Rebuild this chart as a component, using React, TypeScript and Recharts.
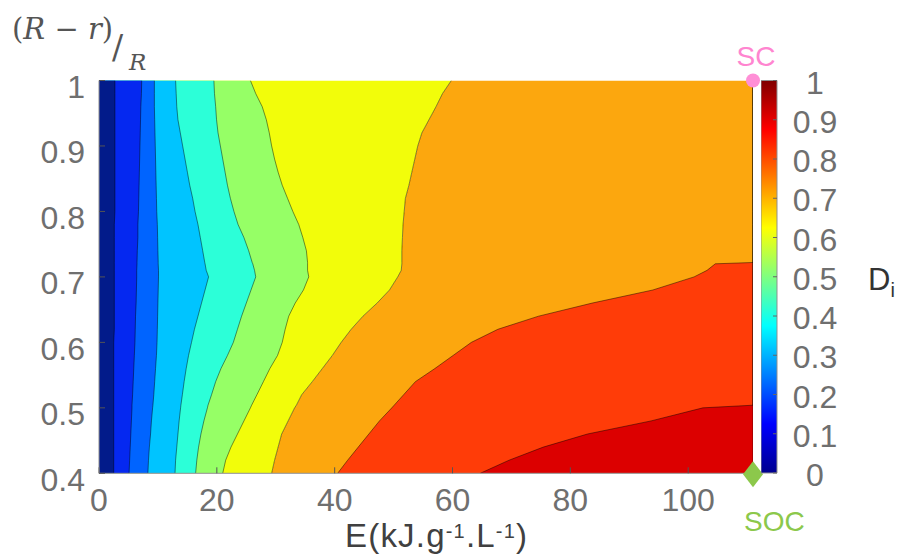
import { ComposedChart, Area, XAxis, YAxis, ReferenceDot, BarChart, Bar } from "recharts";

const X_MAX = 111;
const E_TICKS = [0, 20, 40, 60, 80, 100];
const RATIO_TICKS = [0.4, 0.5, 0.6, 0.7, 0.8, 0.9, 1];
const DI_TICKS = [0, 0.1, 0.2, 0.3, 0.4, 0.5, 0.6, 0.7, 0.8, 0.9, 1];

// (R-r)/R rows where the contour lines were sampled
const ratio = [
  0.4, 0.42, 0.44, 0.46, 0.48, 0.5, 0.504, 0.52, 0.54, 0.56, 0.58, 0.6, 0.62, 0.64, 0.66, 0.68, 0.7,
  0.71, 0.72, 0.722, 0.74, 0.76, 0.78, 0.8, 0.82, 0.84, 0.86, 0.88, 0.9, 0.92, 0.94, 0.96, 0.98, 1,
];

// E (kJ/g/L) of each iso-Di line, one entry per ratio row
const di01 = [2.5, 2.5, 2.5, 2.5, 2.5, 2.5, 2.5, 2.5, 2.5, 2.5, 2.5, 2.5, 2.6, 2.6, 2.6, 2.6, 2.6, 2.6, 2.6, 2.6, 2.6, 2.6, 2.6, 2.7, 2.7, 2.7, 2.7, 2.7, 2.7, 2.7, 2.7, 2.7, 2.7, 2.7];
const di02 = [5.1, 5.2, 5.3, 5.4, 5.5, 5.6, 5.6, 5.7, 5.8, 5.9, 6.0, 6.1, 6.15, 6.2, 6.3, 6.35, 6.4, 6.4, 6.45, 6.45, 6.5, 6.6, 6.6, 6.7, 6.75, 6.8, 6.85, 6.9, 6.95, 7.0, 7.05, 7.1, 7.2, 7.25];
const di03 = [8.3, 8.4, 8.55, 8.75, 8.9, 9.1, 9.15, 9.3, 9.45, 9.6, 9.75, 9.85, 9.9, 9.95, 10.0, 10.05, 10.1, 10.1, 10.05, 10.05, 10.0, 9.95, 9.9, 9.8, 9.75, 9.7, 9.65, 9.6, 9.55, 9.5, 9.45, 9.4, 9.4, 9.4];
const di04 = [12.9, 13.0, 13.2, 13.4, 13.6, 13.85, 13.9, 14.15, 14.45, 14.8, 15.2, 15.7, 16.2, 16.8, 17.4, 18.0, 18.6, 18.2, 18.0, 17.95, 17.6, 17.2, 16.8, 16.3, 15.9, 15.4, 15.0, 14.6, 14.2, 13.8, 13.4, 13.2, 13.1, 13.0];
const di05 = [16.4, 16.6, 16.9, 17.3, 17.8, 18.4, 18.5, 19.1, 19.8, 20.7, 21.8, 22.8, 23.5, 24.2, 25.0, 25.8, 26.6, 26.4, 26.1, 26.0, 25.4, 24.6, 23.6, 22.9, 22.3, 21.8, 21.4, 21.0, 20.6, 20.2, 19.95, 19.8, 19.6, 19.5];
const di06 = [21.0, 21.5, 22.4, 23.5, 24.6, 25.7, 25.9, 26.8, 27.9, 29.0, 30.3, 31.1, 31.6, 32.2, 33.3, 34.7, 35.6, 35.4, 35.4, 35.4, 35.2, 34.6, 33.9, 32.9, 32.0, 31.1, 30.4, 29.8, 29.3, 28.9, 28.4, 27.7, 26.6, 25.7];
const di07 = [29.3, 29.8, 30.4, 31.0, 32.1, 33.2, 33.5, 34.4, 36.2, 37.9, 39.6, 41.1, 42.8, 44.8, 47.2, 49.3, 50.7, 51.3, 51.4, 51.4, 51.4, 51.5, 51.6, 51.8, 52.0, 52.6, 53.1, 53.6, 54.1, 54.8, 56.0, 57.2, 58.3, 59.8];
const di08 = [40.5, 42.2, 44.0, 45.8, 47.6, 49.7, 50.1, 51.7, 53.7, 57.0, 60.1, 63.2, 67.7, 74.6, 83.7, 94.0, 101.0, 103.2, 104.6, 111, null, null, null, null, null, null, null, null, null, null, null, null, null, null];
const di09 = [64.7, 69.6, 75.4, 82.9, 93.7, 102.5, 111, null, null, null, null, null, null, null, null, null, null, null, null, null, null, null, null, null, null, null, null, null, null, null, null, null, null, null];

const rows = ratio.map((v, i) => ({
  v,
  d01: di01[i], d02: di02[i], d03: di03[i], d04: di04[i], d05: di05[i],
  d06: di06[i], d07: di07[i], d08: di08[i], d09: di09[i],
}));

const colorbar = [{ name: "Di", value: 1 }];

const LINE = { stroke: "#000", strokeOpacity: 0.5, strokeWidth: 0.9 };
const FONT = "'Liberation Sans', Arial, sans-serif";
const TICK_GRAY = "#6f6f6f";
const BOX = "#8f8f8f";

// band from an iso-line out to the right edge; above the line's end it collapses onto the edge
const toRange = (key: string) => (r: any) => (r[key] == null ? [X_MAX, X_MAX] : [r[key], X_MAX]);

const XTick = ({ x, y, payload }: any) => (
  <text x={x} y={y + 44} textAnchor="middle" fontSize={32} fontFamily={FONT} fill={TICK_GRAY}>
    {payload.value}
  </text>
);

const YTick = ({ x, y, payload }: any) => (
  <text x={x - 20} y={y + 17.5} textAnchor="end" fontSize={32} fontFamily={FONT} fill={TICK_GRAY}>
    {payload.value}
  </text>
);

const BarTick = ({ x, y, payload }: any) => (
  <text x={x + 42} y={y + 13} textAnchor="middle" fontSize={32} fontFamily={FONT} fill={TICK_GRAY}>
    {payload.value}
  </text>
);

const ScDot = ({ cx, cy }: any) => (
  <g>
    <circle cx={cx} cy={cy} r={7} fill="#ff8fd6" />
    <text x={cx + 3} y={cy - 15} textAnchor="middle" fontSize={28} fontFamily={FONT} fill="#ff85d0">
      SC
    </text>
  </g>
);

const SocDot = ({ cx, cy }: any) => (
  <g>
    <polygon points={`${cx},${cy - 12} ${cx + 10},${cy + 1} ${cx},${cy + 14} ${cx - 10},${cy + 1}`} fill="#8cc84b" />
    <text x={cx - 9} y={cy + 58} fontSize={28} fontFamily={FONT} fill="#8cc84b">
      SOC
    </text>
  </g>
);

export default function App() {
  return (
    <div style={{ position: "absolute", left: 0, top: 0, width: 903, height: 554, background: "#fff" }}>
      <div style={{ position: "absolute", left: 0, top: 0 }}>
        <ComposedChart
          width={903}
          height={554}
          layout="vertical"
          data={rows}
          margin={{ top: 80.5, right: 150, bottom: 40.7, left: 39 }}
        >
          <XAxis
            type="number"
            domain={[0, X_MAX]}
            ticks={E_TICKS}
            allowDataOverflow
            height={40}
            tickSize={-6}
            tickMargin={0}
            tick={<XTick />}
            axisLine={{ stroke: BOX }}
            tickLine={{ stroke: "#555" }}
          />
          <XAxis
            xAxisId="top"
            orientation="top"
            type="number"
            domain={[0, X_MAX]}
            ticks={E_TICKS}
            allowDataOverflow
            height={0}
            tickSize={-6}
            tick={false}
            axisLine={{ stroke: BOX }}
            tickLine={{ stroke: "#555" }}
          />
          <YAxis
            dataKey="v"
            type="number"
            domain={[0.4, 1]}
            ticks={RATIO_TICKS}
            allowDataOverflow
            reversed
            width={60}
            tickSize={-6}
            tickMargin={0}
            tick={<YTick />}
            axisLine={{ stroke: BOX }}
            tickLine={{ stroke: "#555" }}
          />
          <YAxis
            yAxisId="right"
            orientation="right"
            dataKey="v"
            type="number"
            domain={[0.4, 1]}
            ticks={RATIO_TICKS}
            allowDataOverflow
            reversed
            width={0}
            tickSize={-6}
            tick={false}
            axisLine={{ stroke: BOX }}
            tickLine={{ stroke: "#555" }}
          />

          {/* bands painted back to front: right-hand levels first, then left ones over them */}
          <Area dataKey={toRange("d07")} fill="#fca70e" fillOpacity={1} stroke="none" type="linear" isAnimationActive={false} />
          <Area dataKey={toRange("d08")} fill="#ff3c08" fillOpacity={1} {...LINE} type="linear" isAnimationActive={false} />
          <Area dataKey={toRange("d09")} fill="#dc0000" fillOpacity={1} {...LINE} type="linear" isAnimationActive={false} />
          <Area dataKey="d07" fill="#f2fd0a" fillOpacity={1} {...LINE} type="linear" isAnimationActive={false} />
          <Area dataKey="d06" fill="#96ff66" fillOpacity={1} {...LINE} type="linear" isAnimationActive={false} />
          <Area dataKey="d05" fill="#2cffd8" fillOpacity={1} {...LINE} type="linear" isAnimationActive={false} />
          <Area dataKey="d04" fill="#00c4ff" fillOpacity={1} {...LINE} type="linear" isAnimationActive={false} />
          <Area dataKey="d03" fill="#0064ff" fillOpacity={1} {...LINE} type="linear" isAnimationActive={false} />
          <Area dataKey="d02" fill="#0528f0" fillOpacity={1} {...LINE} type="linear" isAnimationActive={false} />
          <Area dataKey="d01" fill="#021b8a" fillOpacity={1} {...LINE} type="linear" isAnimationActive={false} />

          <ReferenceDot x={X_MAX} y={1} r={7} ifOverflow="visible" shape={<ScDot />} />
          <ReferenceDot x={X_MAX} y={0.4} r={7} ifOverflow="visible" shape={<SocDot />} />
        </ComposedChart>
      </div>

      {/* colour scale */}
      <div style={{ position: "absolute", left: 761, top: 0 }}>
        <BarChart width={110} height={554} data={colorbar} barCategoryGap={0} margin={{ top: 80.5, right: 0, bottom: 81, left: 0 }}>
          <defs>
            <linearGradient id="jet" x1="0" y1="1" x2="0" y2="0">
              <stop offset="0" stopColor="#00008f" />
              <stop offset="0.125" stopColor="#0000ff" />
              <stop offset="0.375" stopColor="#00ffff" />
              <stop offset="0.625" stopColor="#ffff00" />
              <stop offset="0.875" stopColor="#ff0000" />
              <stop offset="1" stopColor="#800000" />
            </linearGradient>
          </defs>
          <XAxis dataKey="name" hide />
          <YAxis
            orientation="right"
            type="number"
            domain={[0, 1]}
            ticks={DI_TICKS}
            width={94}
            tickSize={-4}
            tickMargin={0}
            tick={<BarTick />}
            axisLine={false}
            tickLine={{ stroke: "#666" }}
          />
          <Bar dataKey="value" fill="url(#jet)" stroke={BOX} strokeWidth={1} isAnimationActive={false} />
        </BarChart>
      </div>

      {/* axis titles */}
      <svg width={903} height={554} style={{ position: "absolute", left: 0, top: 0, pointerEvents: "none" }}>
        <text x={12} y={39} fontSize={29} fontFamily="'DejaVu Serif', serif" fill="#555">
          <tspan>(</tspan>
          <tspan fontStyle="italic">R</tspan>
          <tspan> − </tspan>
          <tspan fontStyle="italic">r</tspan>
          <tspan>)</tspan>
        </text>
        <text x={112} y={59} fontSize={33} fontFamily="'DejaVu Serif', serif" fill="#555">/</text>
        <text x={129} y={70} fontSize={23} fontStyle="italic" fontFamily="'DejaVu Serif', serif" fill="#555">R</text>

        <text x={345} y={547} fontSize={33} letterSpacing={1.2} fontFamily={FONT} fill="#404040">
          E(kJ.g
          <tspan fontSize={20} dy={-9}>-1</tspan>
          <tspan dy={9}>.L</tspan>
          <tspan fontSize={20} dy={-9}>-1</tspan>
          <tspan dy={9}>)</tspan>
        </text>

        <text x={868} y={290} fontSize={31} fontFamily={FONT} fill="#333">
          D<tspan fontSize={20} dy={7}>i</tspan>
        </text>
      </svg>
    </div>
  );
}
